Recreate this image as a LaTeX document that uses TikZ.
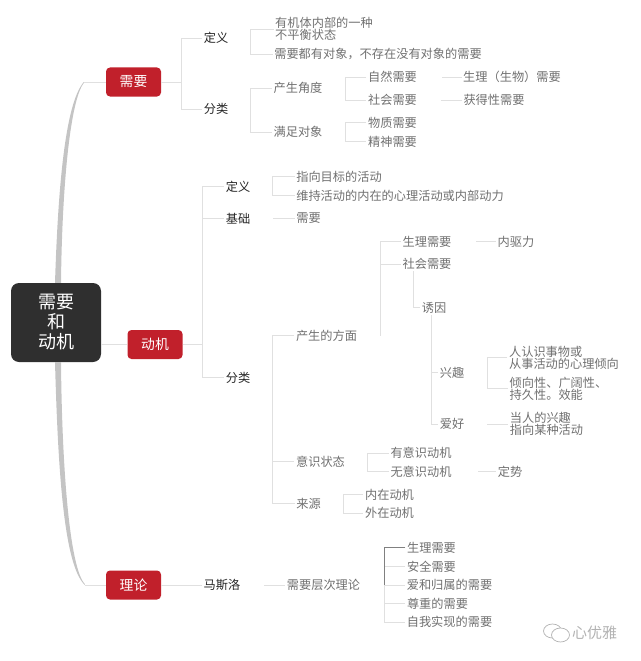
\documentclass[tikz,border=0pt]{standalone}
\usepackage{fontspec}
\setmainfont{Noto Sans CJK SC}
\usetikzlibrary{shapes.geometric}
\definecolor{boxred}{HTML}{C1202B}
\definecolor{rootgray}{HTML}{2F2F2F}
\definecolor{leafgray}{HTML}{707070}
\definecolor{linegray}{HTML}{E0E0E0}
\definecolor{trunkgray}{HTML}{C4C4C4}
\tikzset{
  rootbox/.style={rectangle, rounded corners=8pt, fill=rootgray, text=white, align=center, inner sep=0pt, minimum width=90pt, minimum height=79pt, font=\fontsize{18}{20}\selectfont},
  mainbox/.style={rectangle, rounded corners=4pt, fill=boxred, text=white, inner sep=0pt, minimum width=55pt, minimum height=29pt, font=\fontsize{13.8}{14}\selectfont},
  subtext/.style={text=black!85, inner sep=1.5pt, font=\fontsize{12.2}{12.2}\selectfont},
  leaf/.style={text=leafgray, align=left, inner sep=1.5pt, font=\fontsize{12.2}{12.2}\selectfont},
  link/.style={draw=linegray, line width=0.7pt},
  darklink/.style={draw=black!50, line width=0.7pt},
  trunk/.style={fill=trunkgray},
  logopart/.style={ellipse, draw=black!30, fill=white, line width=0.7pt, inner sep=0pt, minimum width=18pt, minimum height=14pt},
  marktext/.style={text=black!30, inner sep=0pt, font=\fontsize{15}{15}\selectfont}
}
\begin{document}
\begin{tikzpicture}[x=1pt, y=1pt, node distance=20pt]
    \useasboundingbox (0,0) rectangle (640,-661);
    \node (root) [rootbox] at (56,-322.5) {需要\\和\\动机};
    \node (need) [mainbox, right of=root, xshift=57.5pt, yshift=240.5pt] {需要};
    \node (motive) [mainbox, right of=root, xshift=79pt, yshift=-22pt] {动机};
    \node (theory) [mainbox, right of=root, xshift=57.5pt, yshift=-262.5pt] {理论};

    \node (ndef) [subtext, right of=need, xshift=62.5pt, yshift=44pt] {定义};
    \node (nsort) [subtext, below of=ndef, yshift=-51pt] {分类};
    \node (nd1) [leaf, right of=ndef, xshift=88pt, yshift=9pt] {有机体内部的一种\\不平衡状态};
    \node (nd2) [leaf, right of=ndef, xshift=142pt, yshift=-16pt] {需要都有对象，不存在没有对象的需要};
    \node (angle) [leaf, right of=nsort, xshift=62pt, yshift=21pt] {产生角度};
    \node (target) [leaf, below of=angle, yshift=-24pt] {满足对象};
    \node (natural) [leaf, right of=angle, xshift=74.5pt, yshift=11pt] {自然需要};
    \node (social) [leaf, below of=natural, yshift=-3pt] {社会需要};
    \node (bio) [leaf, right of=natural, xshift=99.5pt] {生理（生物）需要};
    \node (gain) [leaf, right of=social, xshift=81.5pt] {获得性需要};
    \node (matter) [leaf, right of=target, xshift=74.5pt, yshift=9.5pt] {物质需要};
    \node (spirit) [leaf, below of=matter, yshift=1pt] {精神需要};

    \node (mdef) [subtext, right of=motive, xshift=63pt, yshift=158pt] {定义};
    \node (mbase) [subtext, below of=mdef, yshift=-12pt] {基础};
    \node (msort) [subtext, right of=motive, xshift=63pt, yshift=-33pt] {分类};
    \node (md1) [leaf, right of=mdef, xshift=81pt, yshift=10pt] {指向目标的活动};
    \node (md2) [leaf, right of=mdef, xshift=142pt, yshift=-9pt] {维持活动的内在的心理活动或内部动力};
    \node (mb1) [leaf, right of=mbase, xshift=50.5pt] {需要};
    \node (origin) [leaf, right of=msort, xshift=68.5pt, yshift=42pt] {产生的方面};
    \node (aware) [leaf, right of=msort, xshift=62.5pt, yshift=-84pt] {意识状态};
    \node (source) [leaf, right of=msort, xshift=50.5pt, yshift=-126pt] {来源};
    \node (physio) [leaf, right of=origin, xshift=80.5pt, yshift=94pt] {生理需要};
    \node (socneed) [leaf, below of=physio, yshift=-2.5pt] {社会需要};
    \node (drive) [leaf, right of=physio, xshift=69pt] {内驱力};
    \node (lure) [leaf, below of=socneed, xshift=7pt, yshift=-23.5pt] {诱因};
    \node (interest) [leaf, below of=lure, xshift=18pt, yshift=-45pt] {兴趣};
    \node (hobby) [leaf, below of=interest, yshift=-31.5pt] {爱好};
    \node (int1) [leaf, right of=interest, xshift=92pt, yshift=15pt] {人认识事物或\\从事活动的心理倾向};
    \node (int2) [leaf, right of=interest, xshift=86.5pt, yshift=-16pt] {倾向性、广阔性、\\持久性。效能};
    \node (hob1) [leaf, right of=hobby, xshift=74.5pt] {当人的兴趣\\指向某种活动};
    \node (aware1) [leaf, right of=aware, xshift=80.5pt, yshift=8.5pt] {有意识动机};
    \node (aware2) [leaf, below of=aware1, yshift=1.5pt] {无意识动机};
    \node (setmind) [leaf, right of=aware2, xshift=69pt] {定势};
    \node (inner) [leaf, right of=source, xshift=61pt, yshift=9pt] {内在动机};
    \node (outer) [leaf, below of=inner, yshift=1.5pt] {外在动机};

    \node (maslow) [subtext, right of=theory, xshift=68.5pt] {马斯洛};
    \node (levels) [leaf, right of=maslow, xshift=81.5pt] {需要层次理论};
    \node (lv1) [leaf, right of=levels, xshift=88pt, yshift=37.5pt] {生理需要};
    \node (lv2) [leaf, below of=lv1, yshift=1pt] {安全需要};
    \node (lv3) [leaf, right of=levels, xshift=106pt] {爱和归属的需要};
    \node (lv4) [leaf, right of=levels, xshift=94pt, yshift=-18.5pt] {尊重的需要};
    \node (lv5) [leaf, below of=lv4, xshift=12pt, yshift=1.5pt] {自我实现的需要};

    \node (logoa) [logopart, right of=lv5, xshift=83pt, yshift=-9pt] {};
    \node (logob) [logopart, right of=logoa, xshift=-12pt, yshift=-4pt] {};
    \node (mark) [marktext, right of=logob, xshift=14pt, yshift=2pt] {心优雅};

    \fill [trunk] ([xshift=-1pt]root.north) .. controls +(3,93) and +(-19,-22) .. ([xshift=-22pt]need.west) -- ([xshift=-22pt,yshift=-1pt]need.west) .. controls +(-14,-18) and +(1,93) .. ([xshift=5pt]root.north) -- cycle;
    \fill [trunk] ([xshift=-1pt]root.south) .. controls +(3,-108) and +(-21,20) .. ([xshift=-21pt]theory.west) -- ([xshift=-21pt,yshift=1pt]theory.west) .. controls +(-15,16) and +(1,-108) .. ([xshift=5pt]root.south) -- cycle;
    \draw [link] ([xshift=-22pt]need.west) -- (need.west);
    \draw [link] ([xshift=-21pt]theory.west) -- (theory.west);
    \draw [link] (root.east |- motive.west) -- (motive.west);

    \draw [link] (need.east) -- ([xshift=20pt]need.east);
    \draw [link] (ndef.west) -| ([xshift=20pt]need.east) |- (nsort.west);
    \draw [link] (nd1.west) -| ([xshift=20pt]ndef.east) |- (nd2.west);
    \draw [link] (angle.west) -| ([xshift=20pt]nsort.east) |- (target.west);
    \draw [link] (natural.west) -| ([xshift=21.5pt]angle.east) |- (social.west);
    \draw [link] ([xshift=23.5pt]natural.east) -- (bio.west);
    \draw [link] ([xshift=22pt]social.east) -- (gain.west);
    \draw [link] (matter.west) -| ([xshift=21.5pt]target.east) |- (spirit.west);

    \draw [link] (motive.east) -- ([xshift=20pt]motive.east);
    \draw [link] (mdef.west) -| ([xshift=20pt]motive.east) |- (msort.west);
    \draw [link] ([xshift=20pt]motive.east) |- (mbase.west);
    \draw [link] (md1.west) -| ([xshift=20.5pt]mdef.east) |- (md2.west);
    \draw [link] ([xshift=21pt]mbase.east) -- (mb1.west);
    \draw [link] (origin.west) -| ([xshift=20.5pt]msort.east) |- (source.west);
    \draw [link] ([xshift=20.5pt]msort.east) |- (aware.west);
    \draw [link] (physio.west) -| ([xshift=22pt]origin.east);
    \draw [link] (socneed.west) -| ([xshift=22pt]origin.east);
    \draw [link] ([xshift=23pt]physio.east) -- (drive.west);
    \draw [link] ([xshift=-14pt]socneed.south) |- (lure.west);
    \draw [link] ([xshift=-3pt]lure.south) |- (interest.west);
    \draw [link] ([xshift=-3pt]lure.south) |- (hobby.west);
    \draw [link] (int1.west) -| ([xshift=21pt]interest.east) |- (int2.west);
    \draw [link] ([xshift=21pt]hobby.east) -- (hob1.west);
    \draw [link] (aware1.west) -| ([xshift=21pt]aware.east) |- (aware2.west);
    \draw [link] ([xshift=25pt]aware2.east) -- (setmind.west);
    \draw [link] (inner.west) -| ([xshift=20.5pt]source.east) |- (outer.west);

    \draw [link] (theory.east) -- (maslow.west);
    \draw [link] ([xshift=22pt]maslow.east) -- (levels.west);
    \draw [link] (lv2.west) -| ([xshift=22.5pt]levels.east) |- (lv3.west);
    \draw [link] ([xshift=22.5pt]levels.east) |- (lv4.west);
    \draw [link] ([xshift=22.5pt]levels.east) |- (lv5.west);
    \draw [darklink] (lv1.west) -| ([xshift=22.5pt]levels.east);
\end{tikzpicture}
\end{document}
